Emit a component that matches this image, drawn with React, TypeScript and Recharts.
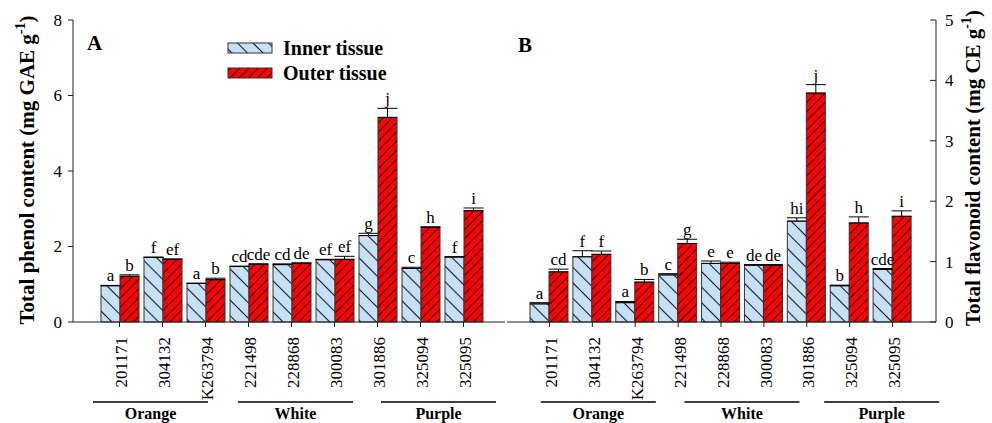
import * as React from 'react';
import { BarChart, Bar, XAxis, YAxis, ErrorBar, LabelList } from 'recharts';

const categories = ['201171', '304132', 'K263794', '221498', '228868', '300083', '301886', '325094', '325095'];

// total phenol (mg GAE g-1)
const phenolInner = [0.96, 1.71, 1.02, 1.47, 1.52, 1.65, 2.29, 1.42, 1.72];
const phenolOuter = [1.21, 1.66, 1.12, 1.53, 1.55, 1.66, 5.42, 2.51, 2.95];
const phenolInnerErr = [0.01, 0.01, 0.01, 0.01, 0.02, 0.01, 0.06, 0.03, 0.01];
const phenolOuterErr = [0.04, 0.01, 0.04, 0.01, 0.02, 0.08, 0.24, 0.01, 0.07];
const phenolInnerSig = ['a', 'f', 'a', 'cd', 'cd', 'ef', 'g', 'c', 'f'];
const phenolOuterSig = ['b', 'ef', 'b', 'cde', 'de', 'ef', 'j', 'h', 'i'];

// total flavonoid (mg CE g-1)
const flavInner = [0.3, 1.08, 0.32, 0.78, 0.97, 0.94, 1.67, 0.6, 0.87];
const flavOuter = [0.83, 1.12, 0.66, 1.3, 0.97, 0.94, 3.79, 1.64, 1.75];
const flavInnerErr = [0.02, 0.1, 0.02, 0.02, 0.04, 0.01, 0.055, 0.01, 0.015];
const flavOuterErr = [0.045, 0.055, 0.045, 0.07, 0.02, 0.01, 0.14, 0.1, 0.09];
const flavInnerSig = ['a', 'f', 'a', 'c', 'e', 'de', 'hi', 'b', 'cde'];
const flavOuterSig = ['cd', 'f', 'b', 'g', 'e', 'de', 'j', 'h', 'i'];

const phenolTicks = [0, 2, 4, 6, 8];
const flavTicks = [0, 1, 2, 3, 4, 5];

const groups = [
  { name: 'Orange', mid: 1 },
  { name: 'White', mid: 4 },
  { name: 'Purple', mid: 7 },
];

const FONT = '"Liberation Serif", "Times New Roman", serif';
const INK = '#222';

const build = (inner: number[], outer: number[], ie: number[], oe: number[]) =>
  categories.map((cat, i) => ({
    cat,
    inner: inner[i],
    outer: outer[i],
    innerErr: [0, ie[i]],
    outerErr: [0, oe[i]],
  }));

const phenolData = build(phenolInner, phenolOuter, phenolInnerErr, phenolOuterErr);
const flavData = build(flavInner, flavOuter, flavInnerErr, flavOuterErr);

const Patterns = ({ id }: { id: string }) => (
  <defs>
    <pattern id={`inner-${id}`} patternUnits="userSpaceOnUse" width={11} height={11} patternTransform="rotate(45)">
      <rect width={11} height={11} fill="#c6e1f7" />
      <line x1={0} y1={5.5} x2={11} y2={5.5} stroke="#1a1a1a" strokeWidth={1.1} />
    </pattern>
    <pattern id={`outer-${id}`} patternUnits="userSpaceOnUse" width={6.5} height={6.5} patternTransform="rotate(-45)">
      <rect width={6.5} height={6.5} fill="#ff0000" />
      <line x1={0} y1={3.25} x2={6.5} y2={3.25} stroke="#1a1a1a" strokeWidth={1} />
    </pattern>
  </defs>
);

const sigLabel = (sig: string[], vals: number[], err: number[]) => (props: any) => {
  const vb = props.viewBox ?? props;
  const { x, y, width, height } = vb;
  const i = props.index;
  if (i == null || !vals[i]) return null;
  const ppu = height / vals[i];
  const top = y - err[i] * ppu;
  return (
    <text x={x + width / 2} y={top - 4} textAnchor="middle" fontSize={17} fontFamily={FONT} fill="#000">
      {sig[i]}
    </text>
  );
};

const catTick = (shifts: number[]) => (props: any) => {
  const { x, y, payload, index } = props;
  const g = groups.findIndex((gr) => gr.mid === index);
  const cx = g >= 0 ? x + shifts[g] : 0;
  return (
    <g>
      <text
        transform={`translate(${x + 2},${y + 7}) rotate(-90)`}
        textAnchor="end"
        dy="0.33em"
        fontSize={17}
        fontFamily={FONT}
        fill="#000"
      >
        {payload.value}
      </text>
      {g >= 0 && (
        <g>
          <line x1={cx - 57.5} x2={cx + 57.5} y1={y + 72} y2={y + 72} stroke="#000" strokeWidth={1.5} />
          <text x={cx} y={y + 89} textAnchor="middle" fontSize={16} fontWeight="bold" fontFamily={FONT} fill="#000">
            {groups[g].name}
          </text>
        </g>
      )}
    </g>
  );
};

const leftTick = (props: any) => {
  const { x, y, payload } = props;
  return (
    <text x={x} y={y} dy="0.35em" textAnchor="end" fontSize={17} fontFamily={FONT} fill="#000">
      {payload.value}
    </text>
  );
};

const rightTick = (props: any) => {
  const { x, y, payload } = props;
  return (
    <g>
      <line x1={x - 15} x2={x - 9} y1={y} y2={y} stroke={INK} />
      <text x={x} y={y} dy="0.35em" fontSize={17} fontFamily={FONT} fill="#000">
        {payload.value}
      </text>
    </g>
  );
};

const App = () => {
  return (
    <div style={{ position: 'absolute', left: 0, top: 0, width: 992, height: 423, background: '#fff', fontFamily: FONT }}>
      <div style={{ position: 'absolute', left: 0, top: 0 }}>
        <BarChart
          width={508}
          height={423}
          data={phenolData}
          margin={{ top: 20, right: 3, left: 0, bottom: 0 }}
          barGap={0}
          barSize={19}
        >
          <Patterns id="a" />
          <XAxis
            dataKey="cat"
            interval={0}
            height={101}
            padding={{ left: 25, right: 20 }}
            tickSize={5}
            tickMargin={3}
            stroke={INK}
            tick={catTick([-12, 4, 18])}
          />
          <XAxis xAxisId="top" orientation="top" dataKey="cat" height={0} tick={false} tickLine={false} stroke={INK} />
          <YAxis
            yAxisId="l"
            domain={[0, 8]}
            ticks={phenolTicks}
            width={73}
            tickSize={5}
            tickMargin={6}
            stroke={INK}
            tick={leftTick}
          />
          <YAxis yAxisId="r" orientation="right" domain={[0, 8]} width={0} tick={false} tickLine={false} stroke={INK} />
          <Bar yAxisId="l" dataKey="inner" fill="url(#inner-a)" stroke="#333" strokeWidth={1} isAnimationActive={false}>
            <ErrorBar dataKey="innerErr" width={10} stroke="#000" strokeWidth={1} direction="y" />
            <LabelList dataKey="inner" content={sigLabel(phenolInnerSig, phenolInner, phenolInnerErr)} />
          </Bar>
          <Bar yAxisId="l" dataKey="outer" fill="url(#outer-a)" stroke="#333" strokeWidth={1} isAnimationActive={false}>
            <ErrorBar dataKey="outerErr" width={10} stroke="#000" strokeWidth={1} direction="y" />
            <LabelList dataKey="outer" content={sigLabel(phenolOuterSig, phenolOuter, phenolOuterErr)} />
          </Bar>
          <text x={87} y={50} fontSize={21} fontWeight="bold" fontFamily={FONT} fill="#000">A</text>
          <rect x={228} y={43} width={44} height={10} fill="url(#inner-a)" stroke="#333" />
          <text x={283} y={55} fontSize={20} fontWeight="bold" fontFamily={FONT} fill="#000">Inner tissue</text>
          <rect x={228} y={68} width={44} height={10} fill="url(#outer-a)" stroke="#333" />
          <text x={283} y={80} fontSize={20} fontWeight="bold" fontFamily={FONT} fill="#000">Outer tissue</text>
          <text transform="translate(34,170) rotate(-90)" textAnchor="middle" fontSize={21} fontWeight="bold" fontFamily={FONT} fill="#000">
            Total phenol content (mg GAE g<tspan dy={-9} fontSize={14}>-1</tspan><tspan dy={9}>)</tspan>
          </text>
        </BarChart>
      </div>
      <div style={{ position: 'absolute', left: 500, top: 0 }}>
        <BarChart
          width={492}
          height={423}
          data={flavData}
          margin={{ top: 20, right: 0, left: 7, bottom: 0 }}
          barGap={0}
          barSize={19}
        >
          <Patterns id="b" />
          <XAxis
            dataKey="cat"
            interval={0}
            height={101}
            padding={{ left: 21, right: 22 }}
            tickSize={5}
            tickMargin={3}
            stroke={INK}
            tick={catTick([6, 21, 32])}
          />
          <XAxis xAxisId="top" orientation="top" dataKey="cat" height={0} tick={false} tickLine={false} stroke={INK} />
          <YAxis yAxisId="l" orientation="left" domain={[0, 5]} width={0} tick={false} tickLine={false} stroke={INK} />
          <YAxis
            yAxisId="r"
            orientation="right"
            domain={[0, 5]}
            ticks={flavTicks}
            width={56}
            tickSize={0}
            tickMargin={9}
            stroke={INK}
            tick={rightTick}
          />
          <Bar yAxisId="r" dataKey="inner" fill="url(#inner-b)" stroke="#333" strokeWidth={1} isAnimationActive={false}>
            <ErrorBar dataKey="innerErr" width={10} stroke="#000" strokeWidth={1} direction="y" />
            <LabelList dataKey="inner" content={sigLabel(flavInnerSig, flavInner, flavInnerErr)} />
          </Bar>
          <Bar yAxisId="r" dataKey="outer" fill="url(#outer-b)" stroke="#333" strokeWidth={1} isAnimationActive={false}>
            <ErrorBar dataKey="outerErr" width={10} stroke="#000" strokeWidth={1} direction="y" />
            <LabelList dataKey="outer" content={sigLabel(flavOuterSig, flavOuter, flavOuterErr)} />
          </Bar>
          <text x={18} y={52} fontSize={21} fontWeight="bold" fontFamily={FONT} fill="#000">B</text>
          <text transform="translate(480,168) rotate(-90)" textAnchor="middle" fontSize={21} fontWeight="bold" fontFamily={FONT} fill="#000">
            Total flavonoid content (mg CE g<tspan dy={-9} fontSize={14}>-1</tspan><tspan dy={9}>)</tspan>
          </text>
        </BarChart>
      </div>
    </div>
  );
};

export default App;
